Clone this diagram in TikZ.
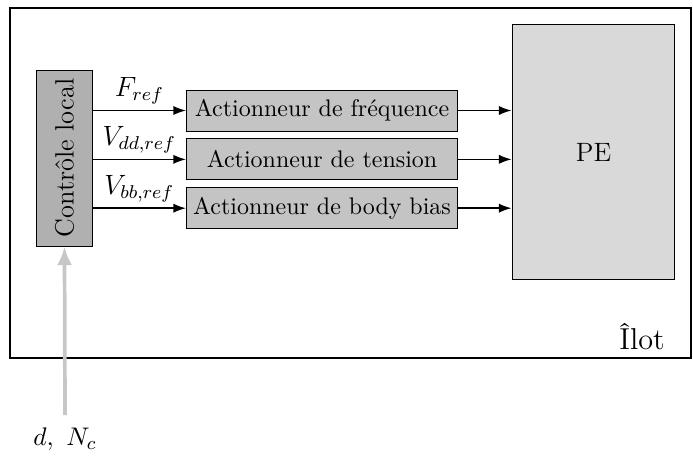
\documentclass[tikz,border=0pt]{standalone}
\usepackage{fontspec}
\usetikzlibrary{arrows.meta,positioning}
\begin{document}
\begin{tikzpicture}[x=0.43pt,y=-0.43pt,>={Latex[length=5.5pt,width=4pt]}, node distance=3pt,
 every node/.style={font=\fontsize{10.3}{13}\selectfont},
 act/.style={draw,fill=black!23,minimum width=116.5pt,minimum height=17.6pt,inner sep=0pt},
 ctrlbox/.style={draw,fill=black!31,rotate=90,minimum width=75.7pt,minimum height=23.7pt,inner sep=0pt,
   font=\fontsize{11.4}{13}\selectfont},
 pebox/.style={draw,fill=black!15,minimum width=70pt,minimum height=110pt,font=\fontsize{11.4}{13}\selectfont},
 lbl/.style={above=-1pt,font=\fontsize{11.6}{13}\selectfont},
 sig/.style={->,line width=0.7pt},
 cmd/.style={draw=black!22,line width=1.6pt,-{Latex[length=8pt,width=6.5pt]}}]
\useasboundingbox (0,0) rectangle (693,455);
\draw[line width=0.8pt] (10,8) rectangle (691,358);
\node[font=\fontsize{13}{15}\selectfont] (ilot) at (642,337) {Îlot};
\node[ctrlbox] (ctl) at (64.5,158) {Contrôle local};
\node[act] (freq) at (322,110.5) {Actionneur de fréquence};
\node[act,below=of freq] (tens) {Actionneur de tension};
\node[act,below=of tens] (bias) {Actionneur de body bias};
\node[pebox] (pe) at (593.5,152) {PE};
\draw[sig] (ctl.south |- freq) -- node[lbl] {$F_{ref}$} (freq);
\draw[sig] (ctl.south |- tens) -- node[lbl] {$V_{dd,ref}$} (tens);
\draw[sig] (ctl.south |- bias) -- node[lbl] {$V_{bb,ref}$} (bias);
\draw[sig] (freq) -- (freq -| pe.west);
\draw[sig] (tens) -- (tens -| pe.west);
\draw[sig] (bias) -- (bias -| pe.west);
\coordinate (src) at (65,415);
\draw[cmd] (src) -- (ctl.west);
\node[below=2pt of src,font=\fontsize{11.2}{13}\selectfont] (dn) {$d,\ N_c$};
\end{tikzpicture}
\end{document}
